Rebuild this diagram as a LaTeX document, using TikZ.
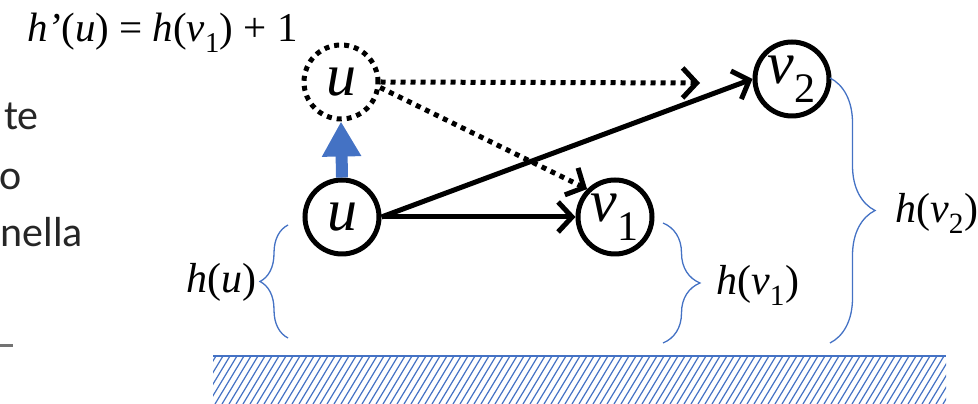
\documentclass[tikz,border=0pt]{standalone}
\usepackage{fontspec}
\setmainfont{Liberation Serif}
\newfontfamily\tnr{Liberation Serif}
\newfontfamily\calib{Carlito}
\usetikzlibrary{arrows.meta,decorations.pathreplacing}
\definecolor{pblue}{HTML}{4472C4}
\begin{document}
\begin{tikzpicture}[x=1pt,y=1pt,
 vtx/.style={circle,draw,line width=5pt,minimum size=74pt,inner sep=0pt,font=\tnr\fontsize{60}{60}\selectfont\itshape},
 dotvtx/.style={vtx,dash pattern=on 5pt off 5pt},
 edge/.style={line width=5pt,-{Straight Barb[length=14pt,width=30pt]}},
 dotedge/.style={edge,dash pattern=on 5pt off 5pt},
 hbrace/.style={draw=pblue,line width=1.3pt,decorate,decoration={brace,amplitude=#1}},
 lbl/.style={font=\tnr\fontsize{42}{42}\selectfont,anchor=base west,inner sep=0pt},
 side/.style={font=\calib\fontsize{42}{42}\selectfont,anchor=base east,inner sep=0pt,text=black!85}
]
\useasboundingbox (0,0) rectangle (978,404);
% ground
\begin{scope}
\clip (213,0) rectangle (946,48);
\foreach \x in {180,187,...,950} \draw[pblue,line width=1.2pt] (\x,0) -- ++(29,48);
\end{scope}
\draw[pblue,line width=1.5pt] (213,48) -- (946,48);
% vertices
\node[dotvtx] (up) at (341,322) {u};
\node[vtx] (u) at (342,187) {u};
\node[vtx] (v1) at (615,187) {v\textsubscript{\upshape 1}};
\node[vtx] (v2) at (792,325) {v\textsubscript{\upshape 2}};
\coordinate (dest) at (700,321);
% edges
\draw[edge] (u.east) -- (v1.west);
\draw[edge] (u.east) -- (v2.west);
\draw[dotedge] (up.east) -- (dest);
\draw[dotedge] (up.-8) -- (v1.135);
\draw[line width=12pt,pblue,-{Triangle[length=35pt,width=37pt]}] (u.north) -- (up.south);
% braces and labels
\draw[hbrace=28pt] (288,66) -- (288,179);
\node[lbl] (hu) at (186,111) {\textit{h}(\textit{u})};
\draw[hbrace=37pt] (663,181) -- (663,61);
\node[lbl] (hv1) at (716,109) {\textit{h}(\textit{v}\textsubscript{\upshape 1})};
\draw[hbrace=45pt] (830,326) -- (830,61);
\node[lbl] (hv2) at (895,181) {\textit{h}(\textit{v}\textsubscript{\upshape 2})};
% formula
\node[lbl,font=\tnr\fontsize{41}{41}\selectfont] (f) at (27,362) {\textit{h’}(\textit{u}) = \textit{h}(\textit{v}\textsubscript{\upshape 1}) + 1};
% cut-off side text
\node[side] (s1) at (39,274) {te};
\node[side] (s2) at (22,214) {o};
\node[side] (s3) at (83,157) {nella};
\fill[black!55] (0,57) rectangle (13,60);
\end{tikzpicture}
\end{document}
